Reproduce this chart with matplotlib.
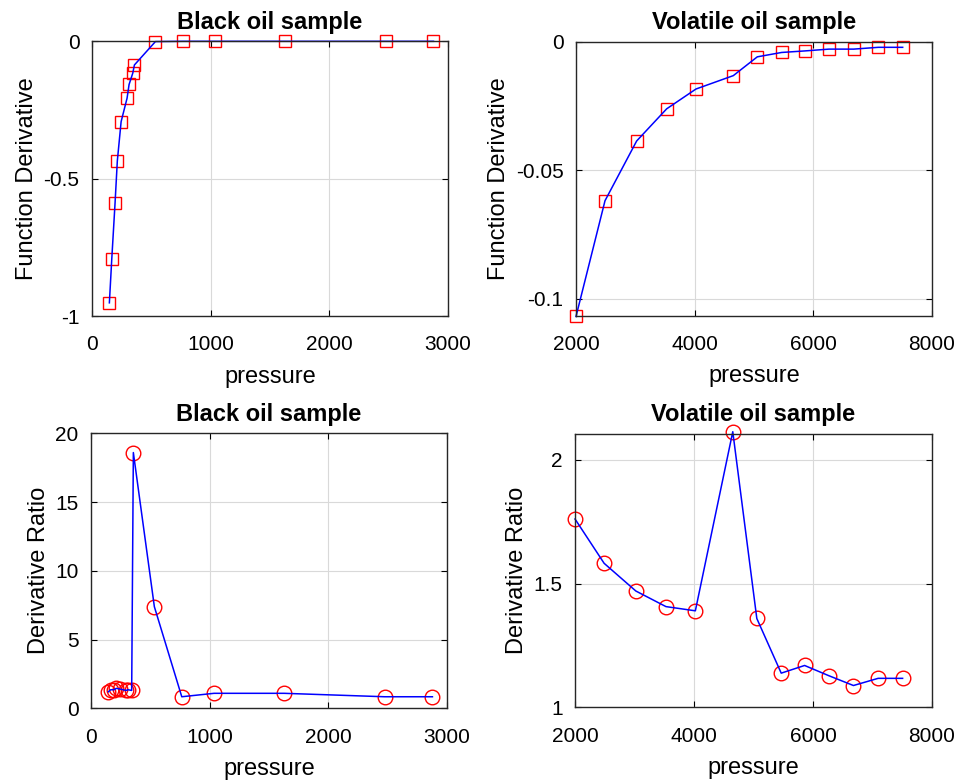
import matplotlib
matplotlib.use("Agg")
import matplotlib.pyplot as plt
from matplotlib.ticker import FormatStrFormatter

plt.rcParams["font.family"] = ["Liberation Sans", "DejaVu Sans"]
plt.rcParams["axes.unicode_minus"] = False

# Black oil sample
black_p = [146, 166, 194, 213, 245, 295, 312, 343, 357, 534, 765, 1037, 1627, 2475, 2877]
black_deriv = [-0.952, -0.794, -0.588, -0.436, -0.293, -0.208, -0.158, -0.117, -0.087,
               -0.002, -0.001, -0.001, -0.001, -0.001, -0.001]
black_ratio = [1.2, 1.35, 1.35, 1.45, 1.4, 1.3, 1.35, 1.3, 18.6, 7.39, 0.84, 1.09, 1.09, 0.84, 0.84]

# Volatile oil sample
vol_p = [2000, 2489, 3022, 3528, 4022, 4651, 5055, 5465, 5858, 6262, 6679, 7094, 7505]
vol_deriv = [-0.1068, -0.0618, -0.0386, -0.0261, -0.0184, -0.0132, -0.0059, -0.0042,
             -0.0036, -0.0029, -0.0029, -0.0022, -0.0022]
vol_ratio = [1.761, 1.582, 1.470, 1.407, 1.390, 2.114, 1.359, 1.138, 1.169, 1.128, 1.088, 1.117, 1.117]

TICK_FS = 15
LABEL_FS = 17
TITLE_FS = 17


def style(ax, title, ylabel, xlim, xticks, ylim, yticks):
    ax.set_xlim(*xlim)
    ax.set_ylim(*ylim)
    ax.set_xticks(xticks)
    ax.set_yticks(yticks)
    ax.xaxis.set_major_formatter(FormatStrFormatter("%g"))
    ax.yaxis.set_major_formatter(FormatStrFormatter("%g"))
    ax.grid(True, color="#d9d9d9", linewidth=0.8)
    ax.set_axisbelow(True)
    ax.tick_params(direction="in", top=True, right=True, length=4, width=0.8,
                   labelsize=TICK_FS)
    ax.tick_params(axis="x", pad=14)
    ax.tick_params(axis="y", pad=9)
    for sp in ax.spines.values():
        sp.set_linewidth(1.0)
        sp.set_color("#262626")
    ax.set_title(title, fontsize=TITLE_FS, fontweight="bold", pad=9)
    ax.set_xlabel("pressure", fontsize=LABEL_FS, labelpad=8)
    ax.set_ylabel(ylabel, fontsize=LABEL_FS, labelpad=4)


def draw(ax, x, y, marker, ms):
    ax.plot(x, y, linestyle="none", marker=marker, markersize=ms,
            markerfacecolor="none", markeredgecolor="red", markeredgewidth=1.0, clip_on=False)
    ax.plot(x, y, color="blue", linewidth=1.1, clip_on=False)


fig = plt.figure(figsize=(9.72, 7.83), dpi=100)
ax1 = fig.add_axes([0.0947, 0.5964, 0.3663, 0.3512])
ax2 = fig.add_axes([0.5926, 0.5968, 0.3663, 0.3500])
ax3 = fig.add_axes([0.0936, 0.0954, 0.3663, 0.3512])
ax4 = fig.add_axes([0.5916, 0.0967, 0.3673, 0.3491])

draw(ax1, black_p, black_deriv, "s", 8.5)
style(ax1, "Black oil sample", "Function Derivative", (0, 3000), [0, 1000, 2000, 3000],
      (-1, 0), [-1, -0.5, 0])

draw(ax2, vol_p, vol_deriv, "s", 8.5)
style(ax2, "Volatile oil sample", "Function Derivative", (2000, 8000), [2000, 4000, 6000, 8000],
      (-0.1065, 0), [-0.1, -0.05, 0])

draw(ax3, black_p, black_ratio, "o", 10.5)
style(ax3, "Black oil sample", "Derivative Ratio", (0, 3000), [0, 1000, 2000, 3000],
      (0, 20), [0, 5, 10, 15, 20])

draw(ax4, vol_p, vol_ratio, "o", 10.5)
style(ax4, "Volatile oil sample", "Derivative Ratio", (2000, 8000), [2000, 4000, 6000, 8000],
      (1, 2.105), [1, 1.5, 2])

fig.savefig("out.png", dpi=100, facecolor="white")
